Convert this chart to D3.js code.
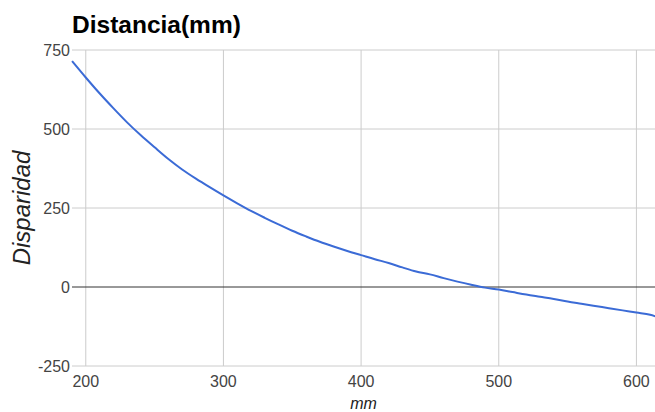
<!DOCTYPE html>
<html>
<head>
<meta charset="utf-8">
<script src="https://cdn.jsdelivr.net/npm/d3@7"></script>
<style>
  body { margin: 0; background: #fff; }
  text { font-family: "Liberation Sans", Arial, sans-serif; }
</style>
</head>
<body>
<svg id="chart"></svg>
<script>
// distance (mm) and disparity
const distance = [190, 200, 210, 220, 230, 240, 250, 260, 270, 280, 290, 300, 310, 320, 330, 340, 350, 360, 370, 380,
  390, 400, 410, 420, 430, 440, 450, 460, 470, 480, 490, 500, 510, 520, 530, 540, 550, 560, 570, 580, 590, 600, 610, 614];
const disparity = [715, 663, 613, 566, 521, 480, 442, 405, 372, 343, 316, 290, 265, 241, 219, 198, 178, 160, 143, 128,
  114, 101, 88, 76, 62, 49, 40, 28, 17, 7, -2, -8, -16, -24, -31, -38, -46, -53, -60, -67, -74, -81, -88, -93];
const xTicks = [200, 300, 400, 500, 600];
const yTicks = [-250, 0, 250, 500, 750];

const width = 655, height = 412;
const margin = { top: 50, right: 0, bottom: 46, left: 72 };

const svg = d3.select('#chart')
  .attr('width', width)
  .attr('height', height);

const x = d3.scaleLinear()
  .domain([190, 613.5])
  .range([margin.left, width - margin.right]);

const y = d3.scaleLinear()
  .domain([-250, 750])
  .range([height - margin.bottom, margin.top]);

// grid
svg.append('g')
  .selectAll('line')
  .data(xTicks)
  .join('line')
    .attr('x1', d => x(d)).attr('x2', d => x(d))
    .attr('y1', margin.top).attr('y2', height - margin.bottom)
    .attr('stroke', '#cccccc')
    .attr('stroke-width', 1);

svg.append('g')
  .selectAll('line')
  .data(yTicks)
  .join('line')
    .attr('x1', margin.left).attr('x2', width - margin.right)
    .attr('y1', d => y(d)).attr('y2', d => y(d))
    .attr('stroke', d => d === 0 ? '#333333' : '#cccccc')
    .attr('stroke-width', 1);

// tick labels
svg.append('g')
  .selectAll('text')
  .data(yTicks)
  .join('text')
    .attr('x', margin.left - 2)
    .attr('y', d => y(d))
    .attr('dy', '0.35em')
    .attr('text-anchor', 'end')
    .attr('fill', '#444')
    .style('font-size', '16px')
    .text(d => d);

svg.append('g')
  .selectAll('text')
  .data(xTicks)
  .join('text')
    .attr('x', d => x(d))
    .attr('y', height - margin.bottom + 21)
    .attr('text-anchor', 'middle')
    .attr('fill', '#444')
    .style('font-size', '16px')
    .text(d => d);

// line
const pts = distance.map((d, i) => [d, disparity[i]]);
svg.append('path')
  .datum(pts)
  .attr('fill', 'none')
  .attr('stroke', '#3b6bd6')
  .attr('stroke-width', 2)
  .attr('stroke-linejoin', 'round')
  .attr('d', d3.line().x(d => x(d[0])).y(d => y(d[1])).curve(d3.curveMonotoneX));

// titles
svg.append('text')
  .attr('x', margin.left)
  .attr('y', 33)
  .style('font-size', '24.5px')
  .style('font-weight', 'bold')
  .attr('fill', '#000')
  .text('Distancia(mm)');

svg.append('text')
  .attr('x', (margin.left + width - margin.right) / 2)
  .attr('y', 409)
  .attr('text-anchor', 'middle')
  .style('font-size', '16px')
  .style('font-style', 'italic')
  .attr('fill', '#222')
  .text('mm');

svg.append('text')
  .attr('transform', `translate(30,${(margin.top + height - margin.bottom) / 2}) rotate(-90)`)
  .attr('text-anchor', 'middle')
  .style('font-size', '24px')
  .style('font-style', 'italic')
  .attr('fill', '#222')
  .text('Disparidad');
</script>
</body>
</html>
